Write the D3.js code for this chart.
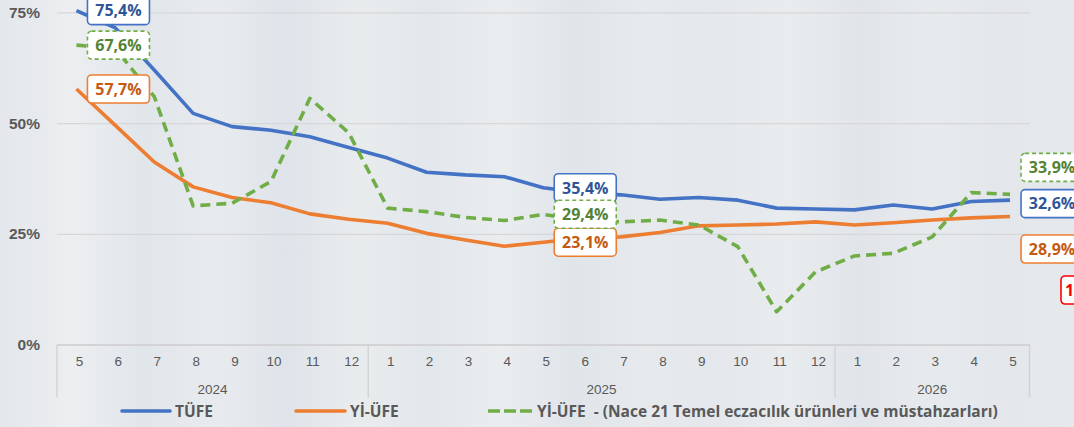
<!DOCTYPE html>
<html>
<head>
<meta charset="utf-8">
<script src="https://cdn.jsdelivr.net/npm/d3@7"></script>
<style>
  body { margin: 0; background: #e5e9ed; }
  svg { display: block; font-family: "Open Sans", "Noto Sans", sans-serif; }
</style>
</head>
<body>
<svg class="display"></svg>
<script>
const months = [5, 6, 7, 8, 9, 10, 11, 12, 1, 2, 3, 4, 5, 6, 7, 8, 9, 10, 11, 12, 1, 2, 3, 4, 5];
const years = ['2024', '2025', '2026'];
const yearStart = [0, 8, 20];
const yTicks = [0, 25, 50, 75];

const tufe = [75.4, 71.5, 62.0, 52.2, 49.2, 48.4, 46.9, 44.5, 42.1, 38.9, 38.3, 37.9, 35.4,
  34.3, 33.8, 32.8, 33.2, 32.6, 30.8, 30.6, 30.4, 31.5, 30.6, 32.3, 32.6];
const yiufe = [57.7, 49.5, 41.2, 35.6, 33.2, 32.0, 29.5, 28.3, 27.4, 25.1, 23.6, 22.2, 23.1,
  24.0, 24.3, 25.3, 26.8, 27.0, 27.2, 27.7, 27.0, 27.5, 28.1, 28.6, 28.9];
const nace21 = [67.6, 66.8, 56.0, 31.3, 31.9, 36.8, 55.6, 47.8, 30.8, 30.0, 28.7, 28.0, 29.4,
  28.0, 27.7, 28.1, 27.0, 22.1, 7.4, 16.4, 20.0, 20.6, 24.3, 34.3, 33.9];

const series = [
  { name: 'TÜFE', values: tufe, color: '#4472C4', text: '#2F5597', dash: null, shift: [0, 0, 3.5] },
  { name: 'Yİ-ÜFE', values: yiufe, color: '#ED7D31', text: '#C55A11', dash: null, shift: [0, 0, 32.5] },
  { name: 'Yİ-ÜFE  - (Nace 21 Temel eczacılık ürünleri ve müstahzarları)', values: nace21,
    color: '#70AD47', text: '#548235', dash: '10,6', shift: [0, 0, -27] }
];
const labelIdx = [0, 12, 24];

const width = 1074;
const height = 427;

const svg = d3.select('.display')
  .attr('width', width)
  .attr('height', height);

// background with soft vertical stripes
const grad = svg.append('defs').append('linearGradient')
  .attr('id', 'bg');
const stripes = ['#e3e7eb', '#eceef0', '#e1e6eb', '#e8ebee', '#dfe4ea', '#e9eced', '#e2e7ec', '#eaedef',
  '#e0e5ea', '#e6eaed', '#e4e8ec', '#e9ecee', '#e1e5ea', '#e7eaed', '#e3e7eb', '#e6e9ec'];
stripes.forEach((c, i) => {
  grad.append('stop').attr('offset', i / (stripes.length - 1)).attr('stop-color', c);
});
svg.append('rect').attr('width', width).attr('height', height).attr('fill', 'url(#bg)');

const x = d3.scaleBand()
  .domain(d3.range(months.length))
  .range([57, 1029.5]);
const cx = i => x(i) + x.bandwidth() / 2;

const y = d3.scaleLinear()
  .domain([0, 75])
  .range([344.5, 12.4]);

// grid + y labels
svg.append('g')
  .attr('transform', 'translate(57,0)')
  .call(d3.axisLeft(y).tickValues(yTicks).tickSize(-(1029.5 - 57)).tickFormat(d => d + '%'))
  .call(g => g.select('.domain').remove())
  .call(g => g.selectAll('.tick line').attr('stroke', '#d6d7d8').attr('stroke-width', 1.3))
  .call(g => g.selectAll('.tick text')
    .attr('x', -17)
    .attr('fill', '#595959')
    .style('font-size', '15.5px')
    .style('font-weight', 'bold'));

// x axis
const xa = svg.append('g')
  .attr('transform', 'translate(0,344.5)')
  .call(d3.axisBottom(x).tickSize(0).tickFormat(i => months[i]))
  .call(g => g.select('.domain').attr('stroke', '#d0d1d2').attr('stroke-width', 1.3))
  .call(g => g.selectAll('.tick text')
    .attr('dx', 3)
    .attr('y', 12)
    .attr('fill', '#595959')
    .style('font-size', '13.5px'));

const bounds = yearStart.concat([months.length]);
xa.selectAll('.ydiv')
  .data(bounds)
  .enter().append('line')
    .attr('x1', i => x(i) === undefined ? 1029.5 : x(i))
    .attr('x2', i => x(i) === undefined ? 1029.5 : x(i))
    .attr('y1', 0)
    .attr('y2', 53)
    .attr('stroke', '#d0d1d2')
    .attr('stroke-width', 1.3);

xa.selectAll('.year')
  .data(years)
  .enter().append('text')
    .attr('x', (d, k) => {
      const a = x(bounds[k]);
      const b = bounds[k + 1] < months.length ? x(bounds[k + 1]) : 1029.5;
      return (a + b) / 2;
    })
    .attr('y', 49)
    .attr('text-anchor', 'middle')
    .attr('fill', '#595959')
    .style('font-size', '13.5px')
    .text(d => d);

// lines
const line = d3.line()
  .x((d, i) => cx(i))
  .y(d => y(d));

svg.selectAll('.series')
  .data(series)
  .enter().append('path')
    .attr('fill', 'none')
    .attr('stroke', d => d.color)
    .attr('stroke-width', 3.6)
    .attr('stroke-linejoin', 'round')
    .attr('stroke-dasharray', d => d.dash)
    .attr('d', d => line(d.values));

// data labels
series.forEach(s => {
  labelIdx.forEach((idx, k) => {
    const px = cx(idx) + 11;
    const py = y(s.values[idx]) + s.shift[k];
    const g = svg.append('g').attr('transform', `translate(${px},${py})`);
    g.append('rect')
      .attr('x', 0).attr('y', -14)
      .attr('width', 62).attr('height', 28)
      .attr('rx', 4)
      .attr('fill', '#fff')
      .attr('stroke', s.color)
      .attr('stroke-width', 1.6)
      .attr('stroke-dasharray', s.dash ? '4,3' : null);
    g.append('text')
      .attr('x', 31).attr('y', 0)
      .attr('dy', '0.36em')
      .attr('text-anchor', 'middle')
      .attr('fill', s.text)
      .style('font-size', '16px')
      .style('font-weight', 'bold')
      .text(s.values[idx].toFixed(1).replace('.', ',') + '%');
  });
});

// clipped label of a fourth series at the right edge
const red = svg.append('g').attr('transform', 'translate(1061,290)');
red.append('rect')
  .attr('x', 0).attr('y', -14).attr('width', 62).attr('height', 28).attr('rx', 4)
  .attr('fill', '#fff').attr('stroke', '#FF0000').attr('stroke-width', 1.6);
red.append('text')
  .attr('x', 4).attr('dy', '0.36em')
  .attr('fill', '#FF0000')
  .style('font-size', '16px').style('font-weight', 'bold')
  .text('1');

// legend
const legend = svg.append('g').attr('transform', 'translate(0,411)');
const legX = [122, 296, 488];
const legW = [48, 49, 44];
series.forEach((s, i) => {
  legend.append('line')
    .attr('x1', legX[i]).attr('x2', legX[i] + legW[i])
    .attr('stroke', s.color)
    .attr('stroke-width', 3.6)
    .attr('stroke-linecap', s.dash ? 'butt' : 'round')
    .attr('stroke-dasharray', s.dash ? '12,4' : null);
  legend.append('text')
    .attr('x', legX[i] + legW[i] + 5)
    .attr('dy', '0.36em')
    .attr('fill', '#595959')
    .style('font-size', '15.5px')
    .style('font-weight', 'bold')
    .style('white-space', 'pre')
    .text(s.name);
});
</script>
</body>
</html>
